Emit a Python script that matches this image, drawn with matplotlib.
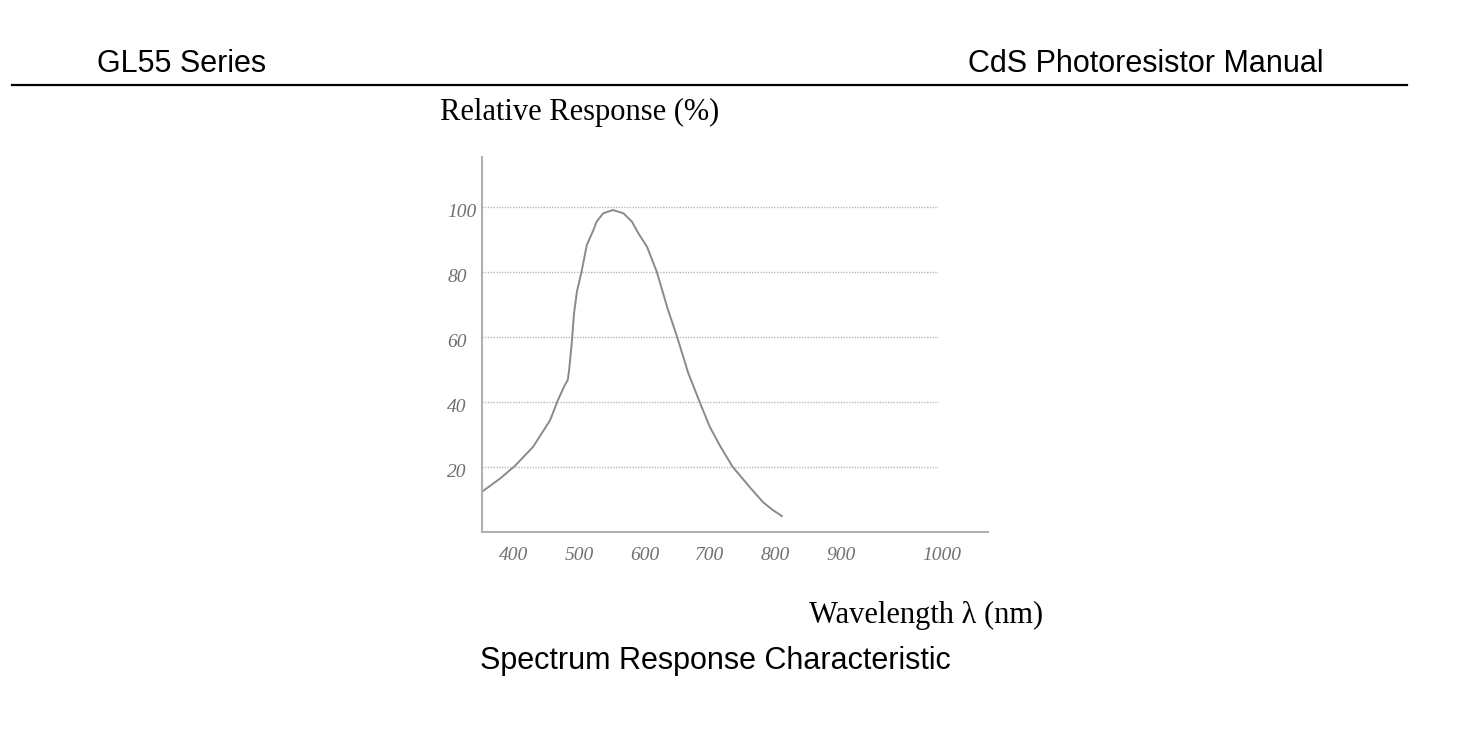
import numpy as np
import matplotlib
matplotlib.use('Agg')
import matplotlib.pyplot as plt
import matplotlib.transforms as mtransforms
from matplotlib.lines import Line2D

# spectral response curve
wavelength = [352, 380, 402, 430, 456, 468, 478, 483, 485, 489, 492.5, 497,
              504, 512, 522, 527, 537, 552, 568, 581, 591, 604, 619, 635,
              650, 667, 685, 700, 717, 735, 761, 781, 796, 810]
response = [12.4, 16.5, 20.3, 26.2, 34.4, 40.6, 45.0, 46.8, 49.8, 58.0, 67.2,
            74.0, 80.0, 88.2, 92.8, 95.4, 98.0, 99.0, 98.0, 95.4, 91.8, 87.7,
            80.0, 69.0, 60.0, 48.9, 39.7, 32.3, 26.0, 20.0, 13.8, 9.2, 6.8,
            4.9]

x_tick_labels = ['400', '500', '600', '700', '800', '900', '1000']
y_tick_labels = ['20', '40', '60', '80', '100']

sans = ['Liberation Sans', 'DejaVu Sans']
serif = ['Liberation Serif', 'DejaVu Serif']

fig = plt.figure(figsize=(14.67, 7.30), dpi=100)
ax = fig.add_axes([0.3286, 0.2712, 0.6735 - 0.3286, 0.7849 - 0.2712])

# the original sheet squeezes the 1000 label closer than a linear scale would
x_pos = [float(v) for v in x_tick_labels]
x_pos[-1] = 1055
y_vals = [float(v) for v in y_tick_labels]

ax.hlines(y_vals, 352, 1048, colors='#b8b8b8', linestyles=(0, (1, 1)), lw=1.0)
ax.plot(wavelength, response, color='#8a8a8a', lw=1.4)

ax.set_xlim(352, 1125)
ax.set_ylim(0, 115.3)

for s in ['top', 'right']:
    ax.spines[s].set_visible(False)
for s in ['left', 'bottom']:
    ax.spines[s].set_color('#b0b0b0')
    ax.spines[s].set_linewidth(1.5)

ax.set_xticks(x_pos)
ax.set_xticklabels(x_tick_labels)
ax.set_yticks(y_vals)
ax.set_yticklabels(y_tick_labels, ha='left')
ax.tick_params(axis='both', length=0, labelcolor='#707070')
ax.tick_params(axis='x', pad=11)
ax.tick_params(axis='y', pad=25)
shift = mtransforms.ScaledTranslation(0, -4 / 100, fig.dpi_scale_trans)
for lab in ax.get_xticklabels() + ax.get_yticklabels():
    lab.set_family(serif)
    lab.set_style('italic')
    lab.set_fontsize(14)
for lab in ax.get_yticklabels():
    lab.set_transform(lab.get_transform() + shift)

# page header
fig.text(97 / 1467, 1 - 64 / 730, 'GL55 Series', family=sans, fontsize=22,
         ha='left', va='center')
fig.text(1323 / 1467, 1 - 64 / 730, 'CdS Photoresistor Manual', family=sans,
         fontsize=22, ha='right', va='center')
fig.add_artist(Line2D([12 / 1467, 1407 / 1467], [1 - 85 / 730, 1 - 85 / 730],
                      color='black', lw=1.6, transform=fig.transFigure))

fig.text(440 / 1467, 1 - 112 / 730, 'Relative Response (%)', family=serif,
         fontsize=22, ha='left', va='center')
fig.text(1043 / 1467, 1 - 615 / 730, 'Wavelength λ (nm)', family=serif,
         fontsize=22, ha='right', va='center')
fig.text(480 / 1467, 1 - 661 / 730, 'Spectrum Response Characteristic',
         family=sans, fontsize=22, ha='left', va='center')

fig.savefig('out.png', dpi=100)
